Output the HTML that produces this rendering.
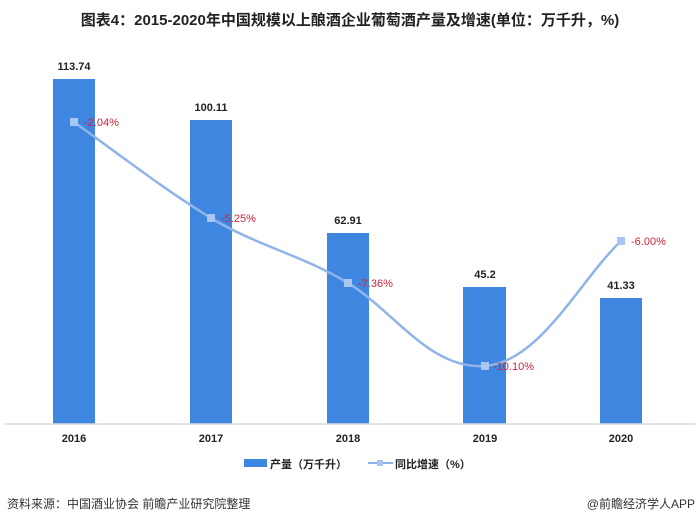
<!DOCTYPE html>
<html><head><meta charset="utf-8"><style>
html,body{margin:0;padding:0;background:#fff;width:700px;height:524px;overflow:hidden}
svg{display:block}
text{font-family:"Liberation Sans","Noto Sans CJK SC",sans-serif}
</style></head><body>
<svg width="700" height="524" viewBox="0 0 700 524" xmlns="http://www.w3.org/2000/svg">
<text x="350" y="25" text-anchor="middle" font-size="15" font-weight="bold" fill="#222">图表4：2015-2020年中国规模以上酿酒企业葡萄酒产量及增速(单位：万千升，%)</text>
<g fill="#3f86e0">
<rect x="53" y="79" width="42" height="345"/>
<rect x="190" y="120" width="42" height="304"/>
<rect x="327" y="233" width="42" height="191"/>
<rect x="463" y="287" width="43" height="137"/>
<rect x="600" y="298" width="42" height="126"/>
</g>
<line x1="5" y1="424" x2="695" y2="424" stroke="#d9d9d9" stroke-width="1.5"/>
<g font-size="11" font-weight="bold" fill="#222" text-anchor="middle">
<text x="74" y="70">113.74</text><text x="211" y="111">100.11</text><text x="348" y="224">62.91</text><text x="485" y="278">45.2</text><text x="621" y="289">41.33</text>
<text x="74" y="442">2016</text><text x="211" y="442">2017</text><text x="348" y="442">2018</text><text x="485" y="442">2019</text><text x="621" y="442">2020</text>
</g>
<path d="M74,122 C120,155 165,190 211,218 C257,246 302,255 348,283 C394,311 430,370 485,366 C540,362 580,280 621,241" fill="none" stroke="#8fb4ea" stroke-width="2.5"/>
<g fill="#a9c6f0"><rect x="70" y="118" width="8" height="8"/><rect x="207" y="214" width="8" height="8"/><rect x="344" y="279" width="8" height="8"/><rect x="481" y="362" width="8" height="8"/><rect x="617" y="237" width="8" height="8"/></g>
<g font-size="11" fill="#d0233a">
<text x="84" y="126">-2.04%</text><text x="221" y="222">-5.25%</text><text x="358" y="287">-7.36%</text><text x="493" y="370">-10.10%</text><text x="631" y="245">-6.00%</text>
</g>
<rect x="244" y="459" width="23" height="8" fill="#3f86e0"/>
<text x="270" y="468" font-size="11" font-weight="bold" fill="#222">产量（万千升）</text>
<line x1="368" y1="463" x2="393" y2="463" stroke="#8fb4ea" stroke-width="2"/>
<rect x="377" y="460" width="6" height="6" fill="#a9c6f0"/>
<text x="395" y="468" font-size="11" font-weight="bold" fill="#222">同比增速（%）</text>
<text x="7" y="508" font-size="12" fill="#333">资料来源：中国酒业协会 前瞻产业研究院整理</text>
<text x="695" y="508" font-size="12" fill="#333" text-anchor="end">@前瞻经济学人APP</text>
</svg>
</body></html>
